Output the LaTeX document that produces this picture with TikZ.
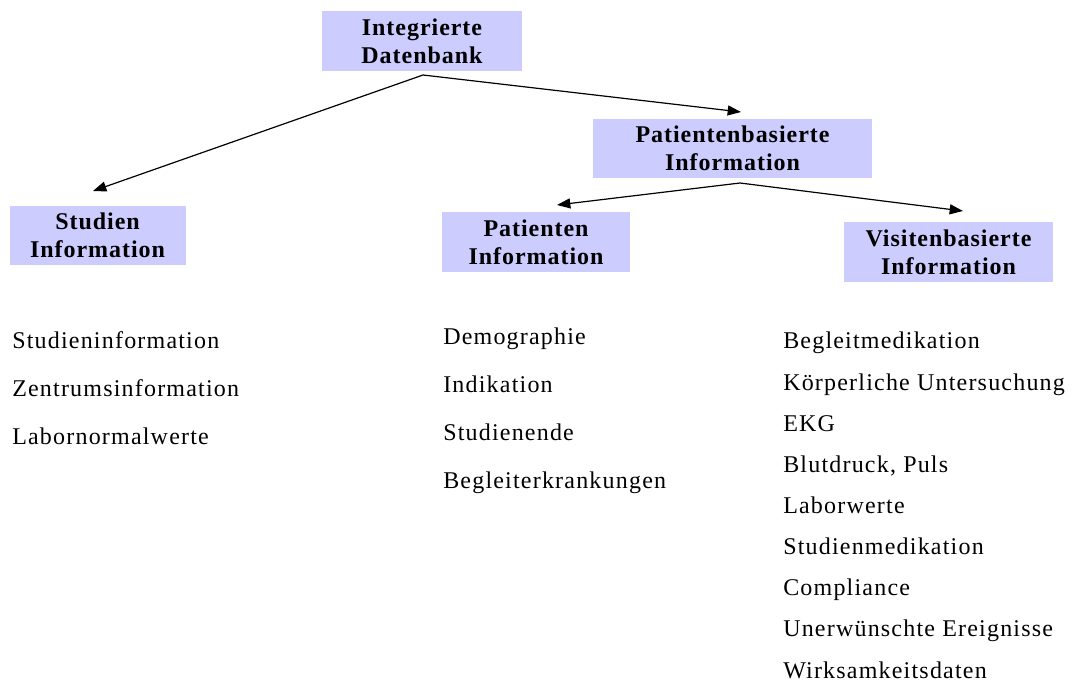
\documentclass[tikz,border=0pt]{standalone}
\usepackage{fontspec}
\setmainfont{Liberation Serif}
\newfontfamily\listfont[LetterSpace=5]{Liberation Serif}
\newfontfamily\boxfont[LetterSpace=4]{Liberation Serif}
\usetikzlibrary{arrows.meta}
\definecolor{boxfill}{RGB}{204,204,255}
\begin{document}
\begin{tikzpicture}[x=0.75pt,y=-0.75pt,
  box/.style={fill=boxfill, draw=none, inner sep=0pt, align=center,
    font=\boxfont\bfseries\fontsize{18}{21}\selectfont},
  item/.style={anchor=base west, inner sep=0pt,
    font=\listfont\fontsize{18}{21}\selectfont},
  conn/.style={line width=0.9pt, -{Triangle[length=10pt,width=7.5pt]}}]
\useasboundingbox (0,0) rectangle (1077,686);

\node[box, minimum width=200*0.75pt, minimum height=60*0.75pt] (db) at (422,41) {Integrierte\\Datenbank};
\node[box, minimum width=279*0.75pt, minimum height=59*0.75pt] (pb) at (732.5,148.5) {Patientenbasierte\\Information};
\node[box, minimum width=176*0.75pt, minimum height=59*0.75pt] (si) at (97.5,235.5) {Studien\\Information};
\node[box, minimum width=188*0.75pt, minimum height=60*0.75pt] (pi) at (536,242) {Patienten\\Information};
\node[box, minimum width=209*0.75pt, minimum height=60*0.75pt] (vi) at (948.5,252) {Visitenbasierte\\Information};

\coordinate (dbout) at (423,75);
\coordinate (pbout) at (740,183);
\coordinate (siin) at (93,191);
\coordinate (pbin) at (741,112);
\coordinate (piin) at (557,205);
\coordinate (viin) at (963,211);

\draw[conn] (dbout) -- (siin);
\draw[conn] (dbout) -- (pbin);
\draw[conn] (pbout) -- (piin);
\draw[conn] (pbout) -- (viin);

\node[item] (l1) at (12,348) {Studieninformation};
\node[item] (l2) at (12,396) {Zentrumsinformation};
\node[item] (l3) at (12,444) {Labornormalwerte};

\node[item] (m1) at (443,344) {Demographie};
\node[item] (m2) at (443,392) {Indikation};
\node[item] (m3) at (443,440) {Studienende};
\node[item] (m4) at (443,488) {Begleiterkrankungen};

\node[item] (r1) at (783,348.9) {Begleitmedikation};
\node[item] (r2) at (783,390) {Körperliche Untersuchung};
\node[item] (r3) at (783,431.1) {EKG};
\node[item] (r4) at (783,472.3) {Blutdruck, Puls};
\node[item] (r5) at (783,513.4) {Laborwerte};
\node[item] (r6) at (783,554.6) {Studienmedikation};
\node[item] (r7) at (783,595.7) {Compliance};
\node[item] (r8) at (783,636.9) {Unerwünschte Ereignisse};
\node[item] (r9) at (783,678) {Wirksamkeitsdaten};
\end{tikzpicture}
\end{document}
